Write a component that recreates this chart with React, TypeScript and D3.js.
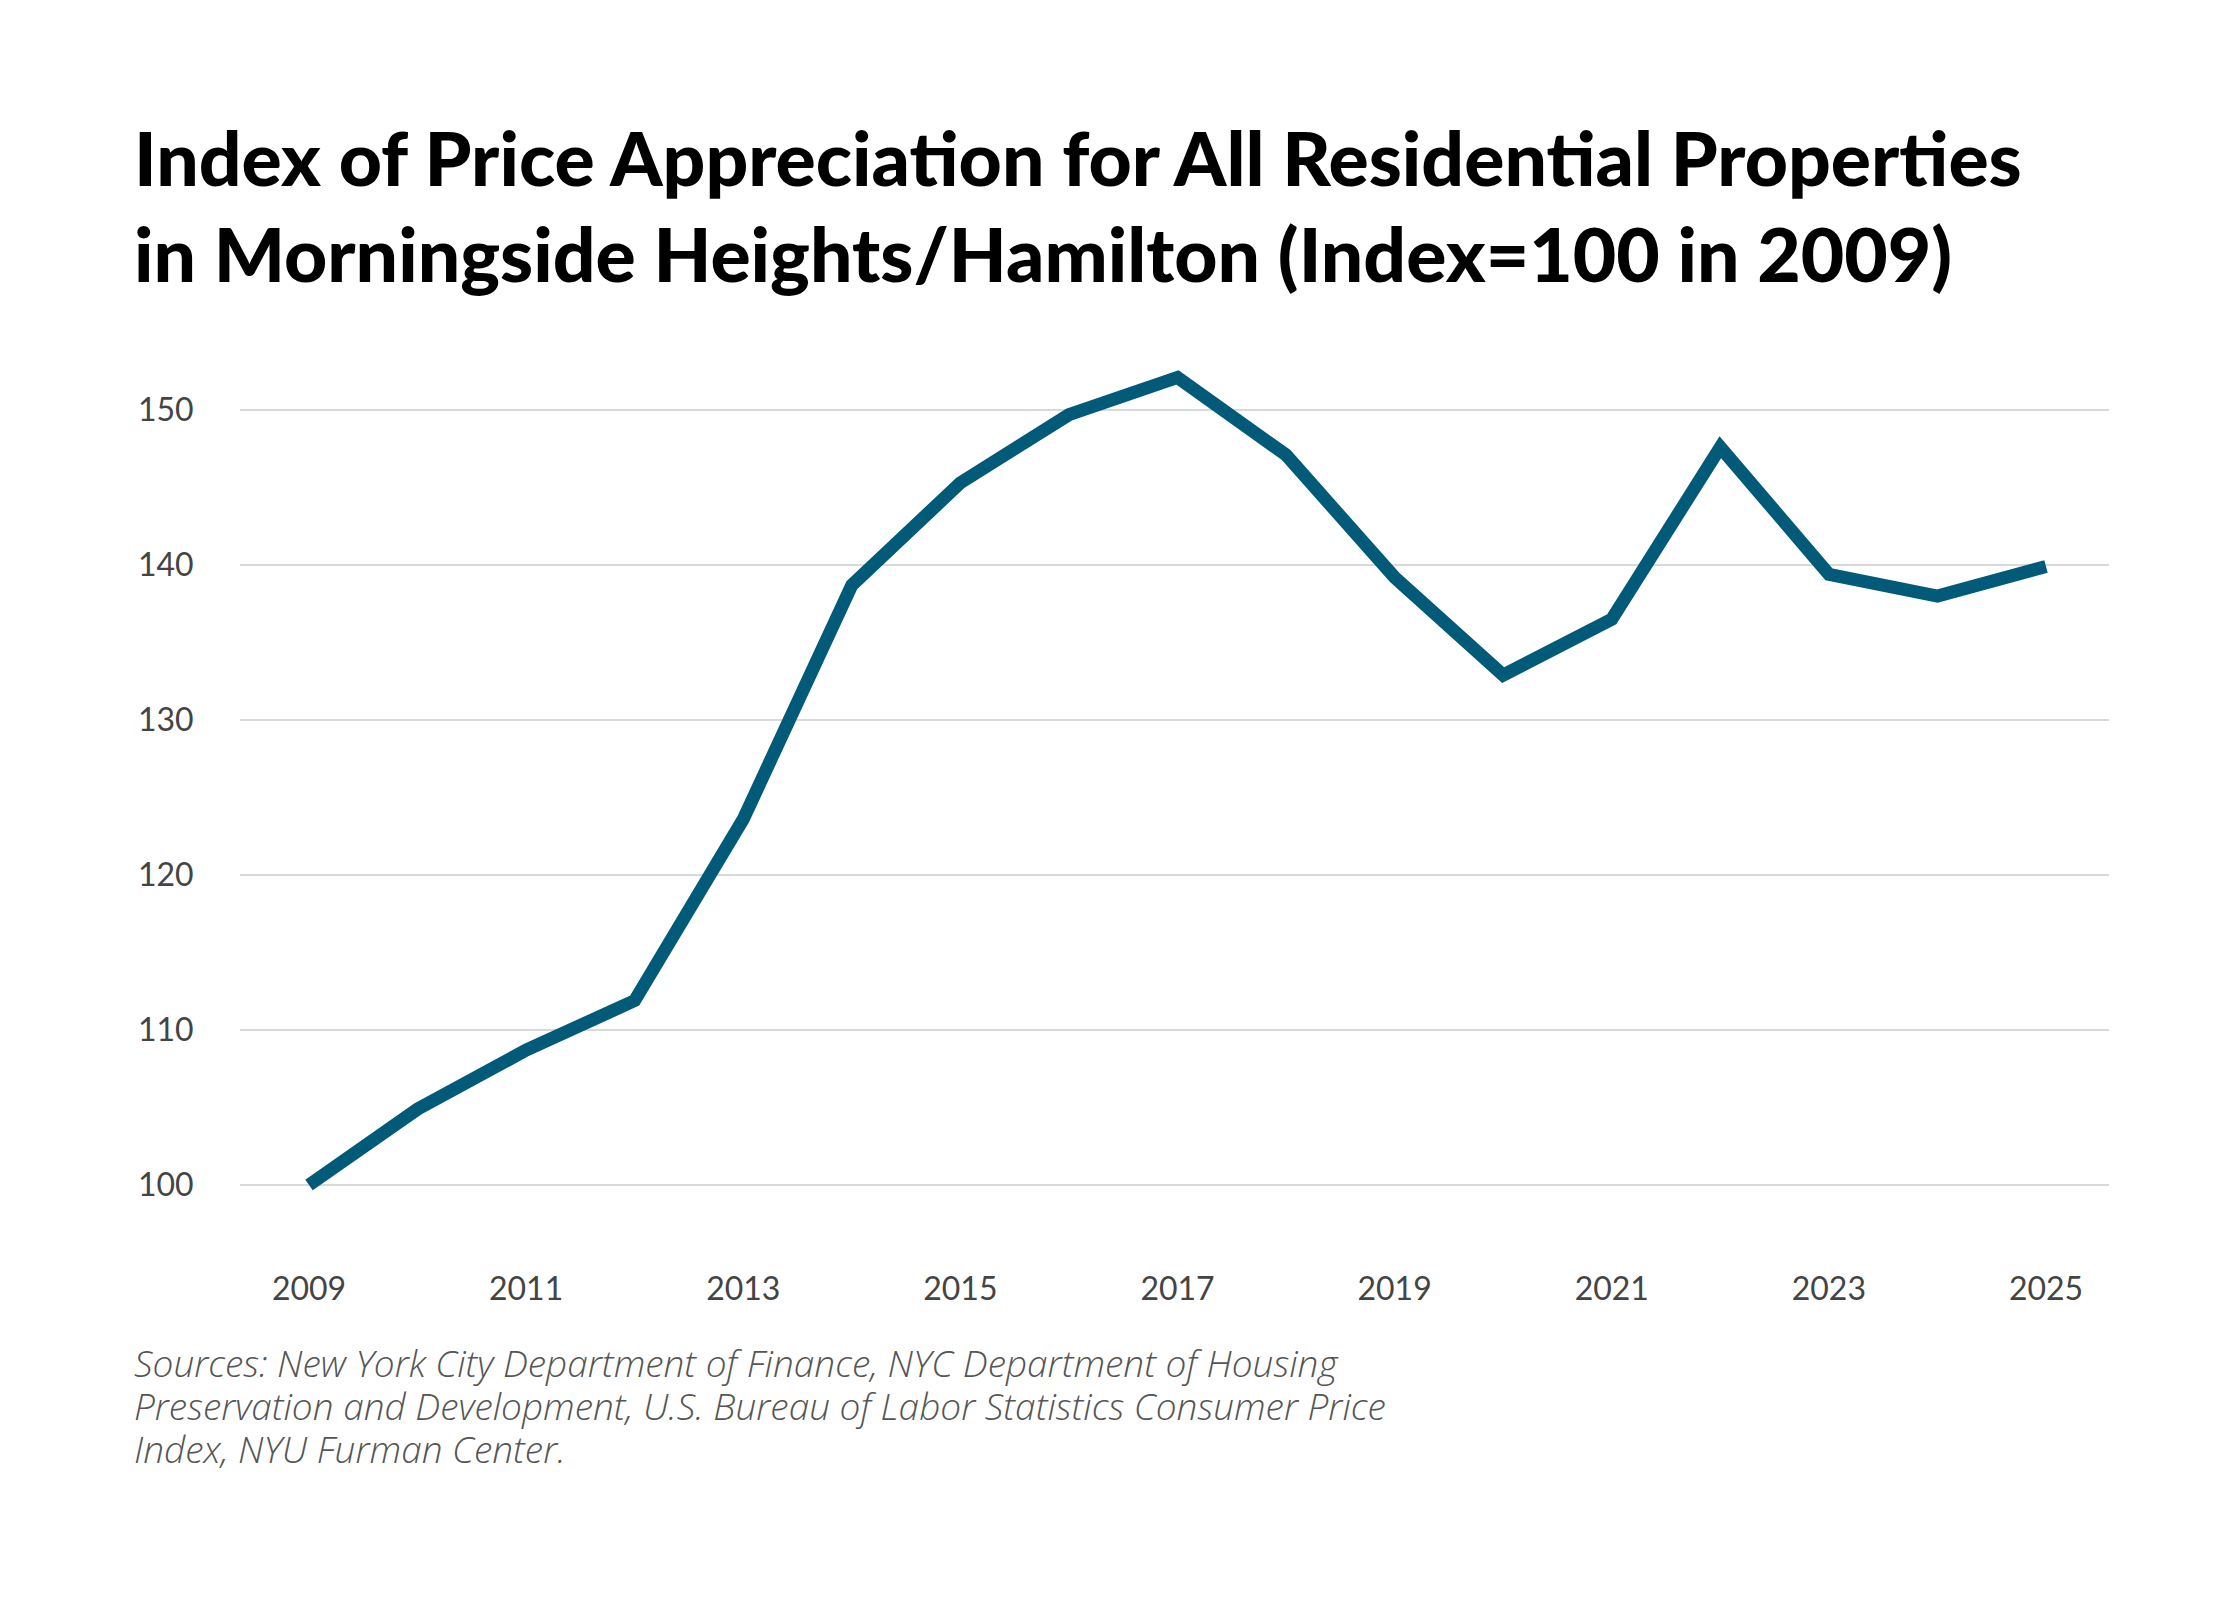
import * as d3 from 'd3';

const years = [2009, 2010, 2011, 2012, 2013, 2014, 2015, 2016, 2017, 2018, 2019, 2020, 2021, 2022, 2023, 2024, 2025];
const values = [100, 104.9, 108.7, 111.9, 123.6, 138.7, 145.3, 149.7, 152.1, 147.1, 139.2, 132.9, 136.5, 147.6, 139.4, 138.0, 139.9];
const yTicks = [100, 110, 120, 130, 140, 150];
const xTicks = [2009, 2011, 2013, 2015, 2017, 2019, 2021, 2023, 2025];
const titleLines = [
  'Index of Price Appreciation for All Residential Properties',
  'in Morningside Heights/Hamilton (Index=100 in 2009)',
];
const sourceLines = [
  'Sources: New York City Department of Finance, NYC Department of Housing',
  'Preservation and Development, U.S. Bureau of Labor Statistics Consumer Price',
  'Index, NYU Furman Center.',
];

const width = 2240;
const height = 1600;

const App = () => {
  const x = d3.scaleLinear().domain([2009, 2025]).range([309, 2046]);
  const y = d3.scaleLinear().domain([100, 150]).range([1185, 410]);
  const line = d3.line<number>().x((_, i) => x(years[i])).y(d => y(d));

  return (
    <svg width={width} height={height} viewBox={`0 0 ${width} ${height}`}
      style={{ display: 'block', margin: -8, background: '#fff' }}>
      {titleLines.map((t, i) => (
        <text key={t} x={134} y={186 + i * 96} fontFamily="Lato" fontWeight={900} fontSize={75} fill="#000">{t}</text>
      ))}
      {yTicks.map(t => (
        <g key={t}>
          <line x1={240} x2={2109} y1={y(t)} y2={y(t)} stroke="#cccccc" strokeWidth={1.5} />
          <text x={138} y={y(t) + 11} fontFamily="Lato" fontSize={32} fill="#444">{t}</text>
        </g>
      ))}
      {xTicks.map(t => (
        <text key={t} x={x(t)} y={1300} textAnchor="middle" fontFamily="Lato" fontSize={32} fill="#444">{t}</text>
      ))}
      <path d={line(values) ?? ''} fill="none" stroke="#005a78" strokeWidth={13} strokeLinejoin="miter" />
      {sourceLines.map((t, i) => (
        <text key={t} x={134} y={1377 + i * 43} fontFamily="Open Sans" fontStyle="italic" fontWeight={300} fontSize={37} fill="#555">{t}</text>
      ))}
    </svg>
  );
};

export default App;
